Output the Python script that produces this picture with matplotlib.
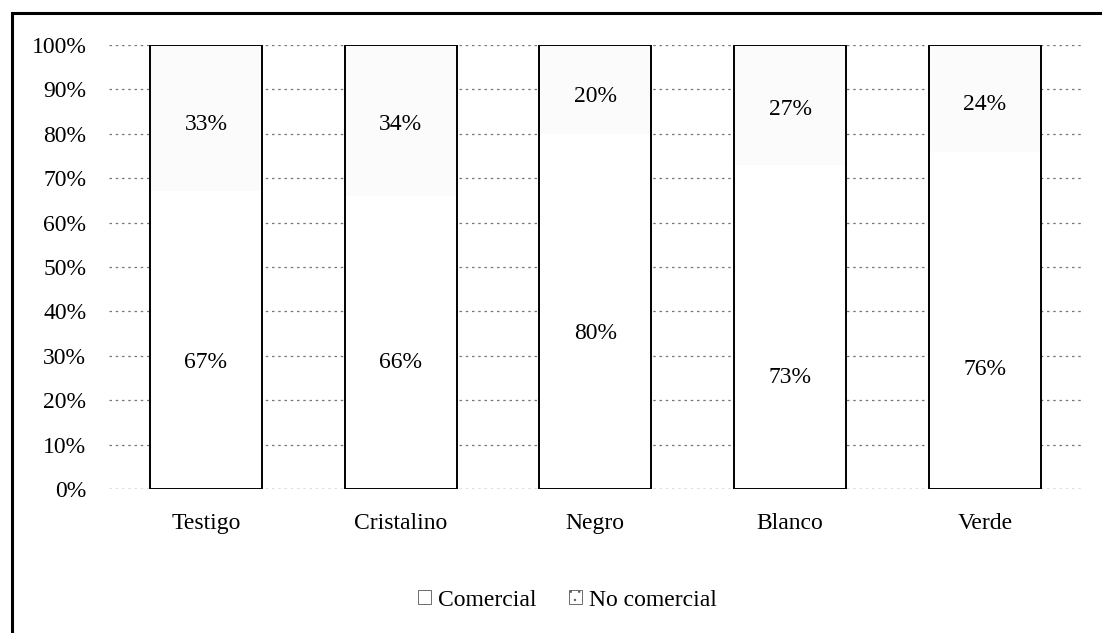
import matplotlib.pyplot as plt
from matplotlib.patches import Rectangle
from matplotlib.ticker import PercentFormatter

# porcentaje de frutos comerciales y no comerciales por tratamiento
tratamientos = ["Testigo", "Cristalino", "Negro", "Blanco", "Verde"]
comercial = [67, 66, 80, 73, 76]
no_comercial = [33, 34, 20, 27, 24]

# altura a la que se escribe cada etiqueta
pos_comercial = [28.5, 28.5, 35, 25, 27]
pos_no_comercial = [82, 82, 88.5, 85.5, 86.5]

plt.rcParams["font.family"] = ["Liberation Serif", "DejaVu Serif"]
plt.rcParams["hatch.color"] = "#cfcfcf"
plt.rcParams["hatch.linewidth"] = 0.5

fig = plt.figure(figsize=(11.02, 6.33), dpi=100)
ax = fig.add_axes([0.0985, 0.2275, 0.8835, 0.7015])

x = list(range(len(tratamientos)))
ancho = 0.575
fs = 17

ax.bar(x, comercial, width=ancho, color="white", edgecolor="none",
       label="Comercial", zorder=3)
ax.bar(x, no_comercial, bottom=comercial, width=ancho, color="#fbfbfb",
       edgecolor="none", hatch="..", label="No comercial", zorder=3)
# contorno de cada columna completa
total = [c + n for c, n in zip(comercial, no_comercial)]
ax.bar(x, total, width=ancho, color="none", edgecolor="black",
       linewidth=1.4, zorder=4)

for i in x:
    ax.text(i, pos_comercial[i], f"{comercial[i]}%", ha="center",
            va="center", fontsize=fs, zorder=5)
    ax.text(i, pos_no_comercial[i], f"{no_comercial[i]}%", ha="center",
            va="center", fontsize=fs, zorder=5)

ax.set_xlim(-0.5, len(tratamientos) - 0.5)
ax.set_ylim(0, 100)
ax.set_yticks(range(0, 101, 10))
ax.yaxis.set_major_formatter(PercentFormatter(decimals=0))
ax.set_xticks(x)
ax.set_xticklabels(tratamientos)
ax.tick_params(axis="both", length=0, labelsize=fs)
ax.tick_params(axis="y", pad=16)
ax.tick_params(axis="x", pad=17)
ax.grid(axis="y", color="#777777", linestyle=(0, (2, 3)), linewidth=0.9,
        zorder=0)
ax.axhline(0, color="#777777", linestyle=(0, (2, 3)), linewidth=0.9,
           zorder=0)
for s in ax.spines.values():
    s.set_visible(False)

leg = fig.legend(
    [Rectangle((0, 0), 1, 1, facecolor="white", edgecolor="#555555", lw=0.6),
     Rectangle((0, 0), 1, 1, facecolor="white", edgecolor="#555555", lw=0.6,
               hatch="..")],
    ["Comercial", "No comercial"],
    loc="center", bbox_to_anchor=(0.515, 0.052), ncol=2, frameon=False,
    fontsize=fs, handlelength=0.55, handleheight=0.55, handletextpad=0.3,
    columnspacing=1.4)

# marco exterior del gráfico
fig.patches.append(Rectangle((0.011, -0.01), 1.2, 0.99, transform=fig.transFigure,
                             fill=False, edgecolor="black", linewidth=2.2))

fig.savefig("out.png", dpi=100)
